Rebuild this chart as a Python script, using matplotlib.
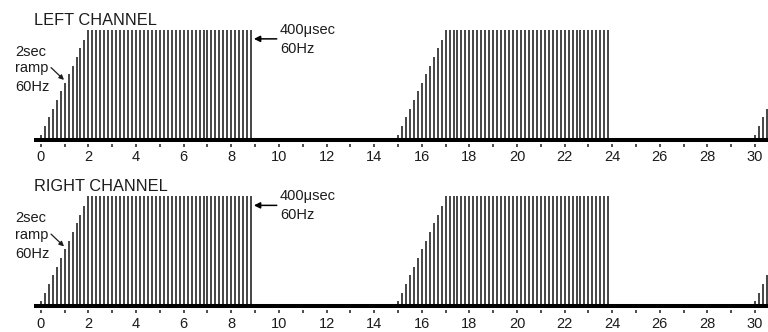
import matplotlib
matplotlib.use("Agg")
import matplotlib.pyplot as plt
import numpy as np

plt.rcParams['font.family'] = ['Liberation Sans', 'DejaVu Sans']

# --- data ---
channel_titles = ["LEFT CHANNEL", "RIGHT CHANNEL"]
burst_onsets = [0, 15, 30]          # seconds
pulse_step = 1 / 6                  # spacing of the drawn pulses (s)
ramp_heights = [0.03, 0.11, 0.19, 0.27, 0.35, 0.43,
                0.51, 0.59, 0.67, 0.75, 0.83, 0.91]   # 2 sec ramp
plateau_pulses = 42                 # full-amplitude pulses after the ramp
tick_values = list(range(0, 31))
ramp_note = ["2sec", "ramp", "60Hz"]
pulse_note = ["400\u03bcsec", "60Hz"]

W, H = 768, 332
INK = "#1c1c1c"

fig = plt.figure(figsize=(W / 100, H / 100), dpi=100)


def draw_channel(top_px, bottom_px, title):
    ax = fig.add_axes([0, 1 - bottom_px / H, 1, (bottom_px - top_px) / H])
    ax.set_xlim(-40.8 / 23.81, (W - 40.8) / 23.81)
    ax.set_ylim(-0.052, 1.277)

    # pulse trains
    amps = np.array(ramp_heights + [1.0] * plateau_pulses)
    for onset in burst_onsets:
        xs = onset + np.arange(len(amps)) * pulse_step
        ax.vlines(xs, -0.02, amps, color="#262626", lw=1.2)

    # thick time axis
    ax.hlines(-0.0185, -0.27, 31, color="black", lw=2.9)

    ax.set_xticks(tick_values)
    ax.set_xticklabels([str(t) if t % 2 == 0 else "" for t in tick_values])
    ax.tick_params(axis="x", length=2.5, width=1.1, pad=2.5,
                   labelsize=10.5, color=INK, labelcolor=INK)
    ax.set_yticks([])
    for s in ax.spines.values():
        s.set_visible(False)

    ax.text(-0.286, 1.046, title, fontsize=11.8, color=INK, va="baseline")

    for s, y in zip(ramp_note, [0.80, 0.645, 0.468]):
        ax.text(-1.084, y, s, fontsize=10.5, color=INK, va="center")
    ax.annotate("", xy=(0.974, 0.537), xytext=(0.43, 0.651),
                arrowprops=dict(arrowstyle="-|>", color=INK, lw=0.9,
                                mutation_scale=7, shrinkA=0, shrinkB=0))

    for s, y in zip(pulse_note, [1.0, 0.824]):
        ax.text(10.05, y, s, fontsize=10.5, color=INK, va="center")
    ax.annotate("", xy=(8.95, 0.917), xytext=(9.91, 0.917),
                arrowprops=dict(arrowstyle="-|>", color="black", lw=1.1,
                                mutation_scale=9, shrinkA=0, shrinkB=0))
    return ax


draw_channel(0, 143.5, channel_titles[0])
draw_channel(166.5, 310, channel_titles[1])

fig.savefig("out.png", dpi=100, facecolor="white")
